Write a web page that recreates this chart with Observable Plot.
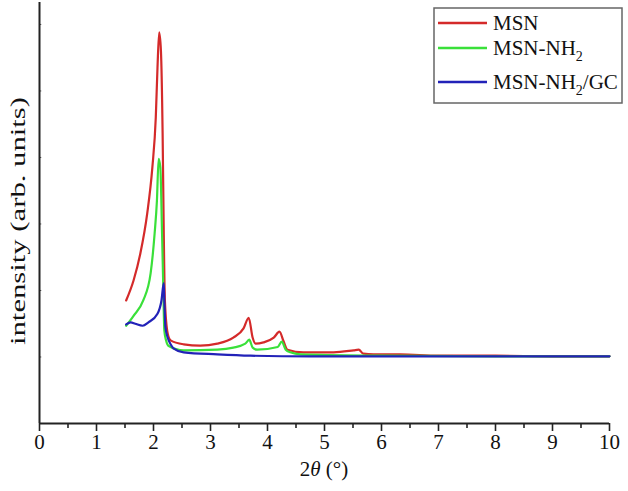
<!DOCTYPE html>
<html>
<head>
<meta charset="utf-8">
<script src="https://cdn.jsdelivr.net/npm/d3@7"></script>
<script src="https://cdn.jsdelivr.net/npm/@observablehq/plot@0.6"></script>
<style>
  html, body { margin: 0; padding: 0; background: white; }
</style>
</head>
<body>
<div id="chart"></div>
<script>
// Series names and colours
const seriesNames = ["MSN", "MSN-NH2", "MSN-NH2/GC"];
const seriesColors = ["#d42a2a", "#3ae03a", "#2222b8"];

// MSN (red)
const xMSN = [1.52,1.65,1.77,1.89,1.98,2.04,2.07,2.1,2.13,2.16,2.18,2.2,2.25,2.3,2.53,2.82,3.12,3.4,3.58,3.67,3.74,3.79,3.93,4.11,4.21,4.28,4.35,4.63,5.16,5.51,5.6,5.68,5.86,6.33,7,8,9,10];
const yMSN = [1.85,2.15,2.56,3.16,3.85,4.60,5.35,5.88,5.61,4.36,2.86,1.85,1.35,1.25,1.19,1.17,1.20,1.29,1.43,1.59,1.29,1.20,1.22,1.29,1.38,1.24,1.11,1.07,1.07,1.10,1.11,1.05,1.04,1.04,1.02,1.02,1.01,1.01];

// MSN-NH2 (green)
const xNH2 = [1.52,1.65,1.82,1.95,2.02,2.06,2.09,2.12,2.15,2.17,2.19,2.22,2.26,2.53,3.12,3.4,3.61,3.68,3.74,3.82,4.18,4.25,4.32,4.4,4.58,6,8,10];
const yNH2 = [1.47,1.62,1.85,2.26,2.86,3.35,3.98,3.85,2.86,2.11,1.40,1.25,1.17,1.10,1.11,1.14,1.20,1.26,1.14,1.11,1.15,1.23,1.11,1.07,1.04,1.02,1.01,1.01];

// MSN-NH2/GC (blue)
const xGC = [1.52,1.6,1.68,1.81,1.91,2.07,2.14,2.18,2.19,2.21,2.25,2.3,2.35,2.53,3.12,3.7,4.75,6,10];
const yGC = [1.49,1.52,1.50,1.47,1.52,1.65,1.85,2.11,1.85,1.44,1.29,1.19,1.13,1.07,1.04,1.02,1.01,1.01,1.01];

// Axis ticks
const xMajorTicks = [0,1,2,3,4,5,6,7,8,9,10];
const xMinorTicks = [0.5,1.5,2.5,3.5,4.5,5.5,6.5,7.5,8.5,9.5];
const yTicks = [1,2,3,4,5,6];

const data = [
  ...xMSN.map((x, i) => ({series: seriesNames[0], x, y: yMSN[i]})),
  ...xNH2.map((x, i) => ({series: seriesNames[1], x, y: yNH2[i]})),
  ...xGC.map((x, i) => ({series: seriesNames[2], x, y: yGC[i]}))
];

const serif = "'Liberation Serif', 'Times New Roman', serif";

const chart = Plot.plot({
  width: 628,
  height: 491,
  marginLeft: 39,
  marginRight: 19,
  marginTop: 2,
  marginBottom: 68,
  style: {fontFamily: serif, fontSize: "20px", background: "white", color: "#111"},
  x: {domain: [0, 10], axis: null},
  y: {domain: [0, 6.33], axis: null},
  color: {domain: seriesNames, range: seriesColors},
  marks: [
    Plot.axisX({ticks: xMajorTicks, tickSize: 8, tickPadding: 3, fontSize: 21, fontFamily: serif, tickFormat: d => String(d), label: null, stroke: "#222", strokeWidth: 1.6}),
    Plot.axisX({ticks: xMinorTicks, tickSize: 5, tickFormat: () => "", label: null, stroke: "#222", strokeWidth: 1.6}),
    Plot.ruleY(yTicks, {y: d => d, x1: 0, x2: 0.04, stroke: "#555", strokeWidth: 1}),
    Plot.line(data, {x: "x", y: "y", z: "series", stroke: "series", strokeWidth: 2.2, curve: "monotone-x"}),
    Plot.ruleX([0], {stroke: "#222", strokeWidth: 2}),
    Plot.ruleY([0], {stroke: "#222", strokeWidth: 2})
  ]
});

const svg = d3.select(chart);
const color = chart.scale("color");

// x label
const xl = svg.append("text")
  .attr("x", 324).attr("y", 476)
  .attr("text-anchor", "middle")
  .attr("font-family", serif)
  .attr("font-size", 21)
  .attr("fill", "#111");
xl.append("tspan").text("2");
xl.append("tspan").attr("font-style", "italic").text("θ");
xl.append("tspan").text(" (°)");

// y label
svg.append("text")
  .attr("transform", "translate(25,221) rotate(-90)")
  .attr("text-anchor", "middle")
  .attr("font-family", serif)
  .attr("font-size", 22)
  .attr("fill", "#111")
  .attr("textLength", 248)
  .attr("lengthAdjust", "spacingAndGlyphs")
  .text("intensity (arb. units)");

// legend
const lg = svg.append("g");
lg.append("rect")
  .attr("x", 434).attr("y", 8).attr("width", 188).attr("height", 95)
  .attr("fill", "white").attr("stroke", "#666").attr("stroke-width", 1.5);
const legendRows = [
  {name: seriesNames[0], ly: 23, parts: [["MSN", false]]},
  {name: seriesNames[1], ly: 48, parts: [["MSN-NH", false], ["2", true]]},
  {name: seriesNames[2], ly: 82, parts: [["MSN-NH", false], ["2", true], ["/GC", false]]}
];
legendRows.forEach(r => {
  lg.append("line")
    .attr("x1", 438).attr("x2", 487).attr("y1", r.ly).attr("y2", r.ly)
    .attr("stroke", color.apply(r.name)).attr("stroke-width", 2.5);
  const t = lg.append("text")
    .attr("x", 493).attr("y", r.ly + 7)
    .attr("text-anchor", "start")
    .attr("font-family", serif)
    .attr("font-size", 21).attr("fill", "#111");
  r.parts.forEach(([s, sub]) => {
    const ts = t.append("tspan").text(s);
    if (sub) ts.attr("font-size", 14).attr("dy", 6);
    else if (s === "/GC") ts.attr("dy", -6);
  });
});

document.getElementById("chart").appendChild(chart);
</script>
</body>
</html>
